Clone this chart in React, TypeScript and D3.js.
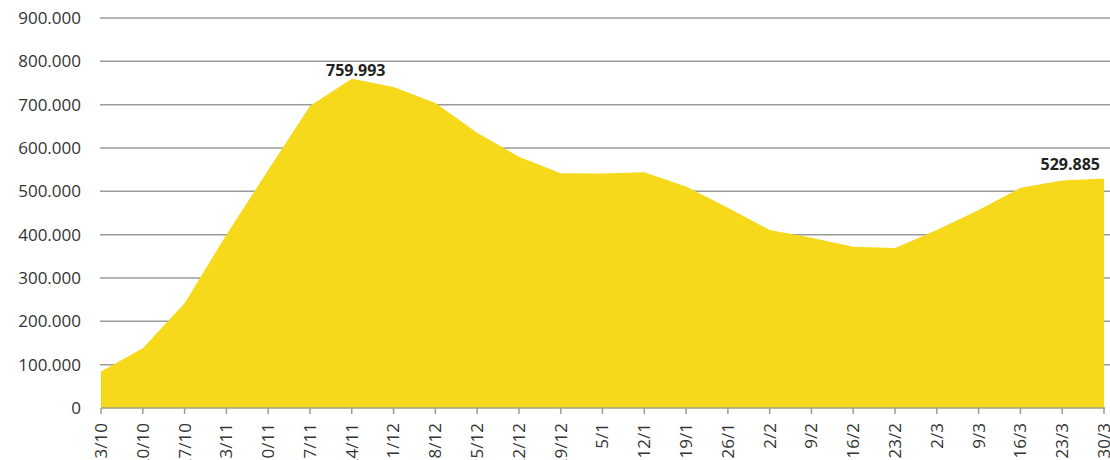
import { useEffect, useRef } from 'react';
import * as d3 from 'd3';

const dates = ['13/10', '20/10', '27/10', '3/11', '10/11', '17/11', '24/11', '1/12', '8/12', '15/12', '22/12', '29/12', '5/1', '12/1', '19/1', '26/1', '2/2', '9/2', '16/2', '23/2', '2/3', '9/3', '16/3', '23/3', '30/3'];
const values = [84000, 138000, 242000, 400000, 549000, 697000, 759993, 741000, 704000, 635000, 580000, 542000, 541000, 544000, 511000, 462000, 411000, 393000, 372000, 369000, 411000, 457000, 508000, 525000, 529885];
const yTicks = [0, 100000, 200000, 300000, 400000, 500000, 600000, 700000, 800000, 900000];
const labelled = ['24/11', '30/3'];

const fmt = (v: number) => (v === 0 ? '0' : d3.format(',')(v).replace(/,/g, '.'));

const App = () => {
  const svgRef = useRef<SVGSVGElement>(null);

  useEffect(() => {
    const svg = d3.select(svgRef.current);
    svg.selectAll('*').remove();
    const font = "'Open Sans', 'Liberation Sans', sans-serif";

    const x = d3.scalePoint().domain(dates).range([101, 1104]);
    const y = d3.scaleLinear().domain([0, 900000]).range([408, 18]);

    // gridlines
    svg.append('g')
      .selectAll('line')
      .data(yTicks.slice(1))
      .join('line')
      .attr('x1', 100)
      .attr('x2', 1110)
      .attr('y1', d => y(d))
      .attr('y2', d => y(d))
      .attr('stroke', '#9a9a9a')
      .attr('stroke-width', 1.5);

    // area
    const area = d3.area<number>()
      .x((_, i) => x(dates[i])!)
      .y0(y(0))
      .y1(d => y(d));
    svg.append('path')
      .datum(values)
      .attr('d', area)
      .attr('fill', '#F6D91B');

    // x axis
    svg.append('line')
      .attr('x1', 101).attr('x2', 1105)
      .attr('y1', y(0)).attr('y2', y(0))
      .attr('stroke', '#a09d86').attr('stroke-width', 1.5);
    svg.append('g')
      .selectAll('line')
      .data(dates)
      .join('line')
      .attr('x1', d => x(d)!)
      .attr('x2', d => x(d)!)
      .attr('y1', y(0))
      .attr('y2', y(0) + 6)
      .attr('stroke', '#a09d86')
      .attr('stroke-width', 1.5);
    svg.append('g')
      .selectAll('text')
      .data(dates)
      .join('text')
      .attr('transform', d => `translate(${x(d)}, 423) rotate(-90)`)
      .attr('text-anchor', 'end')
      .attr('dy', '0.35em')
      .attr('font-family', font)
      .attr('font-size', 17)
      .attr('fill', '#333')
      .text(d => d);

    // y labels
    svg.append('g')
      .selectAll('text')
      .data(yTicks)
      .join('text')
      .attr('x', 81)
      .attr('y', d => y(d))
      .attr('dy', '0.35em')
      .attr('text-anchor', 'end')
      .attr('font-family', font)
      .attr('font-size', 17)
      .attr('fill', '#333')
      .text(d => fmt(d));

    // data labels
    labelled.forEach(dt => {
      const i = dates.indexOf(dt);
      const last = i === dates.length - 1;
      svg.append('text')
        .attr('x', last ? x(dt)! - 4 : x(dt)! + 4)
        .attr('y', y(values[i]) - (last ? 8 : 3))
        .attr('text-anchor', last ? 'end' : 'middle')
        .attr('font-family', font)
        .attr('font-size', 16)
        .attr('font-weight', 'bold')
        .attr('fill', '#222')
        .text(d3.format(',')(values[i]).replace(/,/g, '.'));
    });
  }, []);

  return (
    <svg ref={svgRef} width={1110} height={460} style={{ position: 'absolute', left: 0, top: 0, background: '#fff' }} />
  );
};

export default App;
